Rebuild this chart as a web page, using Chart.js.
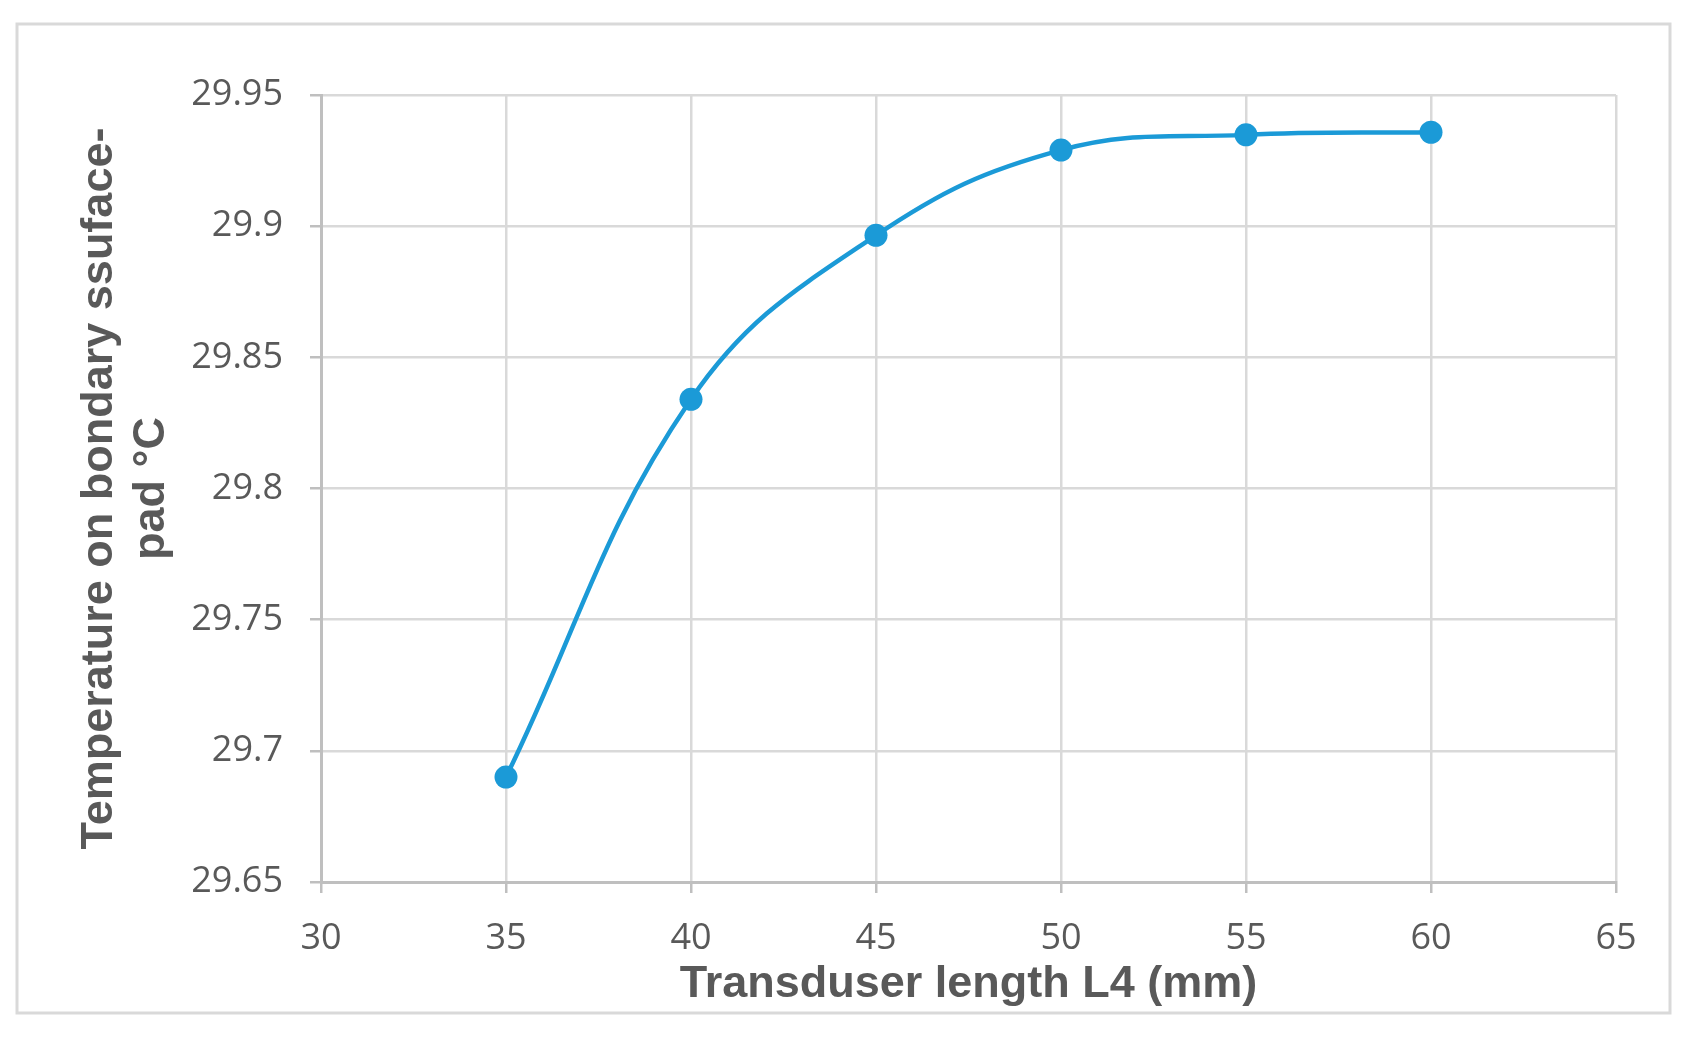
<!DOCTYPE html>
<html>
<head>
<meta charset="utf-8">
<title>Transduser length vs temperature</title>
<script src="https://cdn.jsdelivr.net/npm/chart.js@4.4.1/dist/chart.umd.min.js"></script>
<style>
  html, body { margin: 0; padding: 0; background: #ffffff; }
  #wrap { position: relative; width: 1693px; height: 1043px; }
</style>
</head>
<body>
<div id="wrap"><canvas id="tempChart" width="1693" height="1043"></canvas></div>
<script>
// values
const lengths = [35, 40, 45, 50, 55, 60];
const temperatures = [29.690, 29.834, 29.8965, 29.929, 29.9348, 29.9358];
const xTicks = [30, 35, 40, 45, 50, 55, 60, 65];
const yTicks = [29.65, 29.7, 29.75, 29.8, 29.85, 29.9, 29.95];

const xTitle = 'Transduser length L4 (mm)';
const yTitle = ['Temperature on bondary ssuface-', 'pad °C'];

const lineBlue = '#1b9ad7';
const gridGray = '#d9d9d9';
const axisGray = '#bfbfbf';
const textGray = '#595959';

// light frame around the whole chart
const framePlugin = {
  id: 'frame',
  beforeDraw(chart) {
    const ctx = chart.ctx;
    ctx.save();
    ctx.strokeStyle = '#d9d9d9';
    ctx.lineWidth = 3;
    ctx.strokeRect(17, 24, 1653, 989);
    ctx.restore();
  }
};

const tickFont = { family: '"Open Sans", sans-serif', size: 36 };
const titleFont = { family: '"Liberation Sans", Arial, sans-serif', size: 45, weight: 'bold', lineHeight: 1.16 };

const ctx = document.getElementById('tempChart').getContext('2d');
new Chart(ctx, {
  type: 'line',
  data: {
    datasets: [{
      data: lengths.map((x, i) => ({ x: x, y: temperatures[i] })),
      borderColor: lineBlue,
      backgroundColor: lineBlue,
      borderWidth: 4.5,
      pointRadius: 11.5,
      pointHoverRadius: 11.5,
      pointBorderWidth: 0,
      tension: 0.4,
      fill: false
    }]
  },
  options: {
    responsive: false,
    animation: false,
    layout: { padding: { left: 50, right: 77, top: 95, bottom: 30 } },
    plugins: {
      legend: { display: false },
      tooltip: { enabled: false }
    },
    scales: {
      x: {
        type: 'linear',
        min: 30,
        max: 65,
        afterBuildTicks: (scale) => { scale.ticks = xTicks.map(v => ({ value: v })); },
        afterFit: (scale) => { scale.height = 131; },
        ticks: { font: tickFont, color: textGray, padding: 24, maxRotation: 0, callback: (v) => String(v) },
        grid: { color: gridGray, lineWidth: 2.5, tickLength: 11, tickColor: axisGray, tickWidth: 2.5 },
        border: { color: axisGray, width: 3 },
        title: { display: true, text: xTitle, font: titleFont, color: textGray, padding: { top: 0, bottom: 2 } }
      },
      y: {
        type: 'linear',
        min: 29.65,
        max: 29.95,
        afterBuildTicks: (scale) => { scale.ticks = yTicks.map(v => ({ value: v })); },
        afterFit: (scale) => { scale.width = 271; },
        ticks: { font: tickFont, color: textGray, padding: 27, callback: (v) => String(Number(v.toFixed(2))) },
        grid: { color: gridGray, lineWidth: 2.5, tickLength: 11, tickColor: axisGray, tickWidth: 2.5 },
        border: { color: axisGray, width: 3 },
        title: { display: true, text: yTitle, font: titleFont, color: textGray, padding: { top: 23, bottom: 0 } }
      }
    }
  },
  plugins: [framePlugin]
});
</script>
</body>
</html>
